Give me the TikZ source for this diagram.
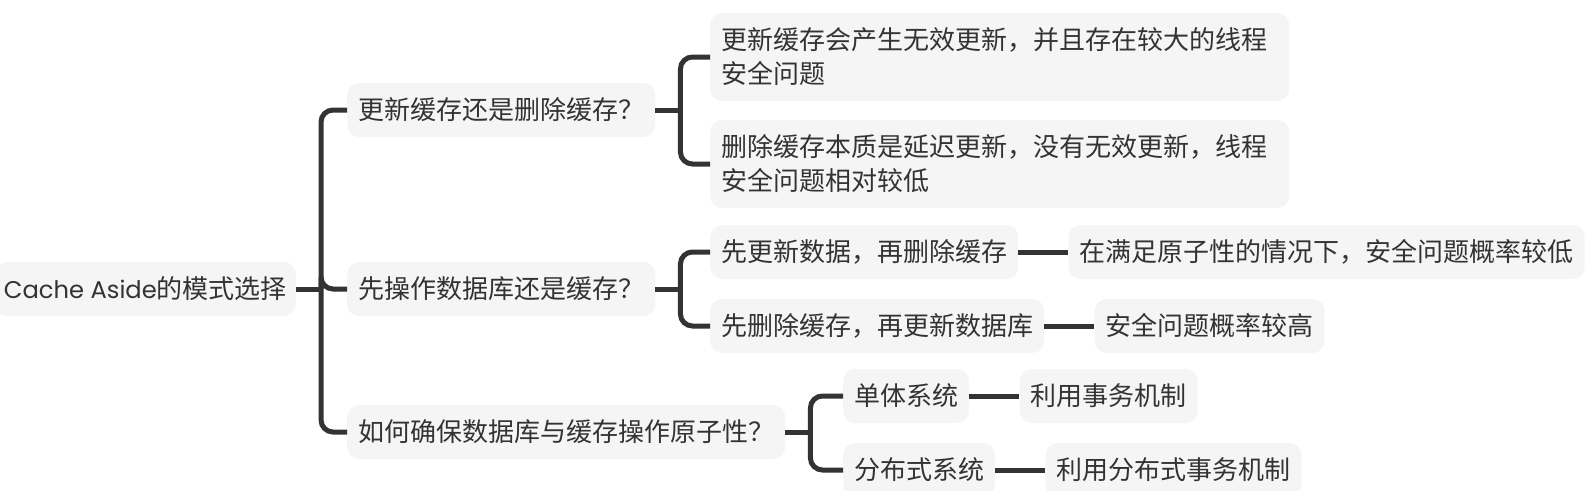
\documentclass[tikz,border=0pt]{standalone}
\usepackage{fontspec}
\setmainfont{Noto Sans CJK SC}
\newfontfamily\latinfont[Scale=0.93]{Poppins}
\usetikzlibrary{positioning}
\definecolor{ink}{HTML}{333333}
\definecolor{boxgray}{HTML}{F5F5F5}

\begin{document}
\begin{tikzpicture}[
x=1pt, y=-1pt,
topic/.style={rectangle, rounded corners=12pt, fill=boxgray, text=ink,
inner xsep=11pt, inner ysep=0pt, minimum height=54pt, anchor=west,
font=\fontsize{26pt}{34pt}\selectfont},
note/.style={topic, align=left, text width=557pt, minimum height=88pt},
link/.style={draw=ink, line width=5pt},
branch/.style={link, rounded corners=12pt},
node distance=50pt
]
\useasboundingbox (0,0) rectangle (1594,490);

\node[topic, anchor=east, inner xsep=9pt] (root) at (296,289) {{\latinfont Cache Aside}的模式选择};

\node[topic] (upd) at (347,110) {更新缓存还是删除缓存？};
\node[topic] (ord) at (347,289) {先操作数据库还是缓存？};
\node[topic] (atom) at (347,432) {如何确保数据库与缓存操作原子性？};

\node[note] (updA) at (710,57) {更新缓存会产生无效更新，并且存在较大的线程\\安全问题};
\node[note] (updB) at (710,164) {删除缓存本质是延迟更新，没有无效更新，线程\\安全问题相对较低};

\node[topic] (ordA) at (710,252) {先更新数据，再删除缓存};
\node[topic] (ordB) at (710,326) {先删除缓存，再更新数据库};
\node[topic, right=of ordA] (ordAr) {在满足原子性的情况下，安全问题概率较低};
\node[topic, right=of ordB] (ordBr) {安全问题概率较高};

\node[topic] (atomA) at (843,396) {单体系统};
\node[topic] (atomB) at (843,470) {分布式系统};
\node[topic, right=of atomA] (atomAr) {利用事务机制};
\node[topic, right=of atomB] (atomBr) {利用分布式事务机制};

\draw[link] (root.east) -- ++(25,0) coordinate (rootJ);
\foreach \c in {upd,ord,atom} \draw[branch] (rootJ) |- (\c.west);

\draw[link] (upd.east) -- ++(25,0) coordinate (updJ);
\foreach \c in {updA,updB} \draw[branch] (updJ) |- (\c.west);

\draw[link] (ord.east) -- ++(25,0) coordinate (ordJ);
\foreach \c in {ordA,ordB} \draw[branch] (ordJ) |- (\c.west);

\draw[link] (atom.east) -- ++(25,0) coordinate (atomJ);
\foreach \c in {atomA,atomB} \draw[branch] (atomJ) |- (\c.west);

\draw[link] (ordA) -- (ordAr);
\draw[link] (ordB) -- (ordBr);
\draw[link] (atomA) -- (atomAr);
\draw[link] (atomB) -- (atomBr);
\end{tikzpicture}
\end{document}
